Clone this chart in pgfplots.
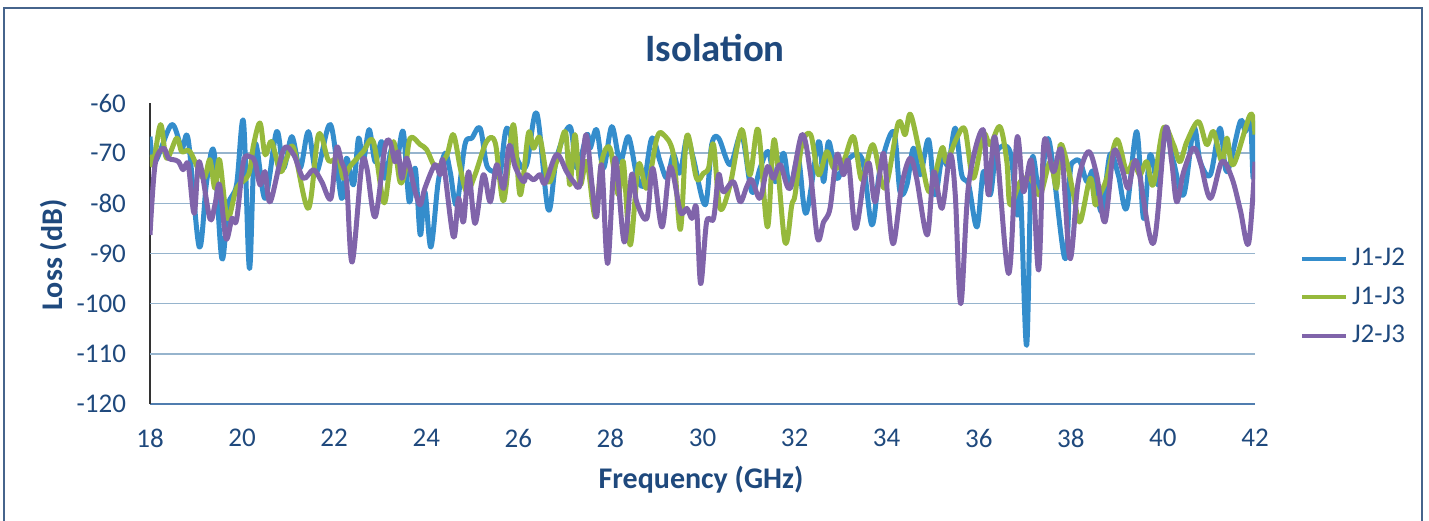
\documentclass[border=0pt]{standalone}
\usepackage{fontspec}
\setmainfont{Carlito}
\usepackage{pgfplots}
\pgfplotsset{compat=1.18}
\usepackage{pgfplotstable}

\definecolor{txt}{RGB}{31,73,125}
\definecolor{gridc}{RGB}{150,180,205}
\definecolor{axc}{RGB}{80,125,175}
\definecolor{framec}{RGB}{70,100,140}
\definecolor{cJonetwo}{RGB}{52,141,204}
\definecolor{cJonethree}{RGB}{150,185,60}
\definecolor{cJtwothree}{RGB}{128,100,170}

% J1-J2
\pgfplotstableread{
f v
18.00 -66.7
18.11 -71.7
18.47 -64.3
18.69 -69.0
18.83 -67.3
19.07 -88.7
19.23 -75.7
19.39 -69.7
19.56 -91.0
19.70 -80.3
19.88 -76.3
20.03 -63.7
20.16 -93.0
20.28 -68.3
20.50 -79.0
20.75 -65.7
20.90 -73.0
21.08 -66.7
21.26 -73.0
21.44 -65.7
21.62 -73.7
21.92 -64.3
22.16 -79.0
22.27 -71.0
22.42 -76.3
22.53 -67.0
22.63 -71.7
22.76 -65.3
22.89 -71.7
23.03 -67.7
23.10 -75.0
23.25 -69.0
23.36 -71.7
23.50 -65.7
23.63 -79.7
23.76 -73.0
23.87 -86.3
23.97 -77.7
24.10 -88.7
24.26 -75.7
24.41 -70.0
24.52 -73.7
24.66 -80.3
24.84 -68.3
24.99 -67.0
25.17 -65.0
25.31 -72.3
25.46 -73.7
25.60 -74.3
25.75 -65.0
26.00 -71.7
26.18 -72.3
26.40 -62.0
26.65 -81.3
26.83 -71.0
27.12 -64.7
27.27 -73.0
27.49 -66.3
27.56 -69.0
27.70 -65.3
27.85 -73.0
28.03 -64.7
28.21 -71.7
28.39 -66.7
28.57 -74.3
28.72 -76.3
28.90 -67.0
29.08 -71.7
29.23 -75.0
29.37 -70.3
29.51 -74.0
29.66 -67.0
29.80 -71.0
30.06 -80.3
30.20 -68.3
30.35 -67.0
30.60 -72.3
30.85 -66.3
31.07 -77.7
31.25 -73.0
31.43 -69.7
31.58 -75.7
31.76 -70.0
31.90 -77.0
32.08 -71.0
32.25 -82.0
32.52 -67.7
32.63 -75.7
32.74 -67.7
32.92 -75.0
33.10 -71.7
33.46 -71.0
33.68 -84.3
33.86 -73.0
34.15 -65.7
34.29 -77.7
34.44 -76.3
34.58 -69.0
34.73 -74.3
34.91 -67.3
35.05 -78.3
35.20 -71.0
35.34 -72.3
35.49 -65.0
35.63 -74.3
35.78 -76.3
35.96 -84.7
36.10 -73.7
36.25 -78.3
36.39 -69.7
36.68 -69.7
36.83 -82.3
36.91 -78.3
37.04 -108.3
37.15 -71.7
37.33 -78.3
37.52 -67.3
37.87 -91.0
37.98 -74.3
38.06 -71.7
38.20 -71.7
38.35 -75.7
38.49 -73.7
38.67 -81.7
38.85 -70.3
39.03 -74.3
39.21 -81.0
39.43 -65.7
39.58 -83.0
39.72 -70.3
39.90 -76.3
40.05 -65.7
40.23 -71.7
40.45 -78.3
40.67 -65.0
40.81 -71.7
41.03 -74.3
41.24 -65.0
41.39 -73.7
41.68 -63.7
41.79 -65.7
41.90 -63.0
41.96 -75.0
42.00 -63.5
}\jonetwo

% J1-J3
\pgfplotstableread{
f v
18.00 -70.3
18.07 -72.3
18.23 -64.3
18.36 -71.0
18.58 -67.0
18.69 -69.7
18.87 -69.7
19.16 -75.0
19.30 -71.3
19.41 -77.0
19.51 -71.3
19.68 -83.0
19.88 -77.0
20.14 -74.3
20.25 -68.3
20.39 -64.0
20.50 -70.3
20.64 -67.7
20.83 -73.7
20.97 -71.0
21.12 -69.0
21.44 -81.0
21.66 -66.3
21.88 -71.5
22.09 -71.0
22.20 -75.0
22.34 -72.7
22.63 -69.7
22.85 -67.7
23.07 -79.7
23.18 -75.0
23.29 -67.7
23.43 -75.7
23.54 -73.7
23.65 -67.0
23.87 -68.3
24.01 -69.3
24.16 -72.3
24.26 -72.7
24.45 -70.3
24.59 -66.3
24.74 -73.0
24.88 -77.7
25.06 -74.3
25.31 -67.7
25.50 -68.0
25.68 -79.5
25.89 -64.3
26.04 -78.3
26.22 -66.0
26.33 -69.0
26.47 -67.0
26.65 -75.7
26.83 -71.7
27.02 -65.7
27.12 -76.3
27.23 -66.3
27.34 -76.3
27.49 -71.7
27.67 -82.7
27.81 -71.7
27.99 -69.0
28.17 -78.3
28.28 -71.7
28.43 -88.3
28.61 -72.3
28.79 -77.0
29.01 -67.0
29.15 -66.3
29.37 -70.3
29.52 -85.2
29.66 -66.5
29.87 -75.0
30.02 -74.0
30.13 -73.0
30.24 -68.3
30.38 -81.0
30.60 -76.3
30.85 -65.3
31.03 -74.3
31.21 -65.3
31.41 -84.7
31.56 -67.3
31.79 -87.7
31.94 -80.3
32.01 -78.3
32.16 -68.3
32.35 -66.3
32.52 -74.3
32.70 -69.7
32.85 -73.0
33.06 -71.7
33.28 -66.7
33.46 -75.3
33.70 -68.3
33.96 -77.0
34.25 -64.0
34.40 -66.3
34.52 -62.3
34.76 -71.7
34.94 -77.7
35.20 -69.0
35.30 -71.7
35.52 -67.0
35.70 -65.3
35.88 -75.0
36.10 -66.3
36.25 -68.3
36.46 -64.7
36.61 -71.7
36.68 -80.3
36.90 -75.7
37.12 -75.0
37.33 -78.3
37.55 -71.7
37.69 -77.0
37.77 -68.3
37.91 -71.7
38.06 -78.3
38.20 -83.7
38.42 -75.0
38.53 -80.3
38.63 -78.3
38.78 -75.0
39.00 -67.3
39.21 -73.7
39.36 -71.7
39.50 -74.3
39.65 -71.7
39.79 -76.3
40.01 -65.0
40.23 -68.3
40.37 -71.7
40.52 -67.7
40.77 -63.7
40.95 -68.3
41.10 -65.7
41.28 -71.7
41.39 -67.0
41.53 -72.3
41.90 -62.3
42.00 -66.3
}\jonethree

% J2-J3
\pgfplotstableread{
f v
18.00 -86.3
18.11 -72.3
18.29 -69.0
18.40 -71.0
18.51 -71.3
18.62 -71.7
18.72 -73.3
18.83 -72.3
18.96 -82.0
19.07 -71.7
19.30 -83.0
19.41 -80.3
19.51 -76.3
19.65 -87.0
19.78 -83.0
19.88 -83.3
20.03 -71.7
20.17 -70.7
20.28 -71.7
20.39 -76.3
20.50 -73.7
20.61 -79.7
20.90 -69.3
21.12 -70.3
21.33 -75.0
21.55 -73.3
21.73 -75.7
21.93 -79.0
22.05 -69.0
22.16 -71.7
22.27 -75.7
22.39 -91.7
22.60 -72.3
22.71 -73.0
22.89 -82.7
23.10 -69.0
23.21 -67.7
23.32 -71.7
23.39 -69.7
23.47 -75.0
23.58 -71.0
23.76 -77.7
23.87 -80.3
23.97 -77.0
24.19 -72.3
24.30 -74.3
24.37 -71.7
24.59 -86.7
24.70 -79.0
24.81 -83.7
24.92 -73.7
25.06 -84.0
25.24 -74.3
25.39 -79.7
25.53 -72.3
25.68 -77.0
25.80 -68.5
25.93 -72.7
26.11 -75.7
26.18 -74.3
26.33 -75.3
26.47 -74.3
26.58 -76.0
26.83 -70.3
27.05 -73.7
27.20 -75.7
27.34 -76.3
27.47 -66.3
27.60 -76.3
27.70 -82.7
27.81 -72.3
27.94 -92.0
28.10 -71.0
28.30 -87.7
28.46 -74.3
28.57 -79.7
28.79 -83.0
28.92 -73.0
29.12 -84.7
29.30 -72.7
29.52 -81.7
29.66 -81.0
29.77 -83.0
29.87 -81.0
29.96 -96.0
30.09 -83.7
30.24 -83.0
30.35 -74.3
30.45 -77.7
30.67 -75.7
30.82 -79.7
30.96 -76.7
31.07 -75.3
31.25 -79.0
31.41 -72.7
31.54 -75.0
31.69 -72.3
31.90 -77.0
32.16 -66.3
32.34 -73.7
32.50 -87.0
32.63 -83.7
32.77 -81.0
32.92 -70.3
33.06 -74.3
33.17 -71.7
33.32 -85.0
33.50 -75.7
33.62 -72.0
33.75 -79.7
33.93 -70.0
34.04 -81.0
34.15 -88.0
34.33 -76.3
34.51 -71.0
34.65 -75.0
34.88 -86.3
35.02 -73.7
35.20 -81.0
35.38 -70.3
35.49 -78.3
35.61 -100.0
35.78 -76.3
36.09 -65.3
36.21 -78.3
36.36 -67.0
36.65 -94.0
36.83 -67.0
36.97 -77.7
37.15 -71.7
37.30 -93.3
37.42 -67.7
37.62 -73.7
37.80 -69.7
37.98 -91.0
38.16 -75.7
38.38 -69.7
38.56 -74.3
38.74 -83.7
38.93 -69.7
39.11 -73.0
39.25 -77.0
39.43 -71.7
39.79 -88.0
40.05 -65.3
40.19 -71.7
40.30 -79.7
40.45 -73.7
40.66 -69.0
40.81 -71.7
41.03 -79.0
41.28 -71.7
41.50 -75.0
41.68 -81.3
41.86 -88.0
42.00 -71.7
}\jtwothree

\begin{document}
\begin{tikzpicture}
\useasboundingbox (-75pt,-58pt) rectangle (639.5pt,202pt);
\draw[framec, line width=1pt] (-73pt,-60pt) -- (-73pt,198pt) -- (636pt,198pt) -- (636pt,-60pt);
\begin{axis}[
    scale only axis,
    width=552.5pt, height=150.5pt,
    xmin=18, xmax=42,
    ymin=-120, ymax=-60,
    xtick={18,20,...,42},
    ytick={-120,-110,...,-60},
    extra y ticks={-110,-100,-90,-80,-70},
    extra y tick labels={},
    extra y tick style={ymajorgrids=true},
    grid style={gridc, line width=0.8pt},
    axis x line*=bottom,
    axis y line*=left,
    x axis line style={-, axc, line width=0.9pt},
    y axis line style={-, black!80, line width=0.6pt},
    major tick length=0pt,
    tick label style={font=\fontsize{13.5}{15}\selectfont, text=txt},
    /pgf/number format/assume math mode=true,
    xticklabel style={yshift=-9pt},
    yticklabel style={xshift=-8.5pt},
    legend style={draw=none, fill=none, at={(1.035,0.355)}, anchor=west,
        font=\fontsize{13.5}{15}\selectfont, text=txt, row sep=5pt},
    legend cell align=left,
    legend image code/.code={\draw[#1, line width=2pt] (0pt,0pt) -- (22pt,0pt);},
    every axis plot/.append style={smooth, tension=0.55, line width=2.5pt, line join=round, no markers},
]
\addplot[cJonetwo] table[x=f, y=v] {\jonetwo};
\addlegendentry{J1-J2}
\addplot[cJonethree] table[x=f, y=v] {\jonethree};
\addlegendentry{J1-J3}
\addplot[cJtwothree] table[x=f, y=v] {\jtwothree};
\addlegendentry{J2-J3}
\end{axis}
\node[font=\bfseries\fontsize{19.4}{22}\selectfont, text=txt] at (282.5pt,178pt) {Isolation};
\node[font=\bfseries\fontsize{15}{17}\selectfont, text=txt, anchor=base] at (275.5pt,-42pt) {Frequency (GHz)};
\node[font=\bfseries\fontsize{15}{17}\selectfont, text=txt, anchor=base, rotate=90] at (-43.5pt,74.5pt) {Loss (dB)};
\end{tikzpicture}
\end{document}
